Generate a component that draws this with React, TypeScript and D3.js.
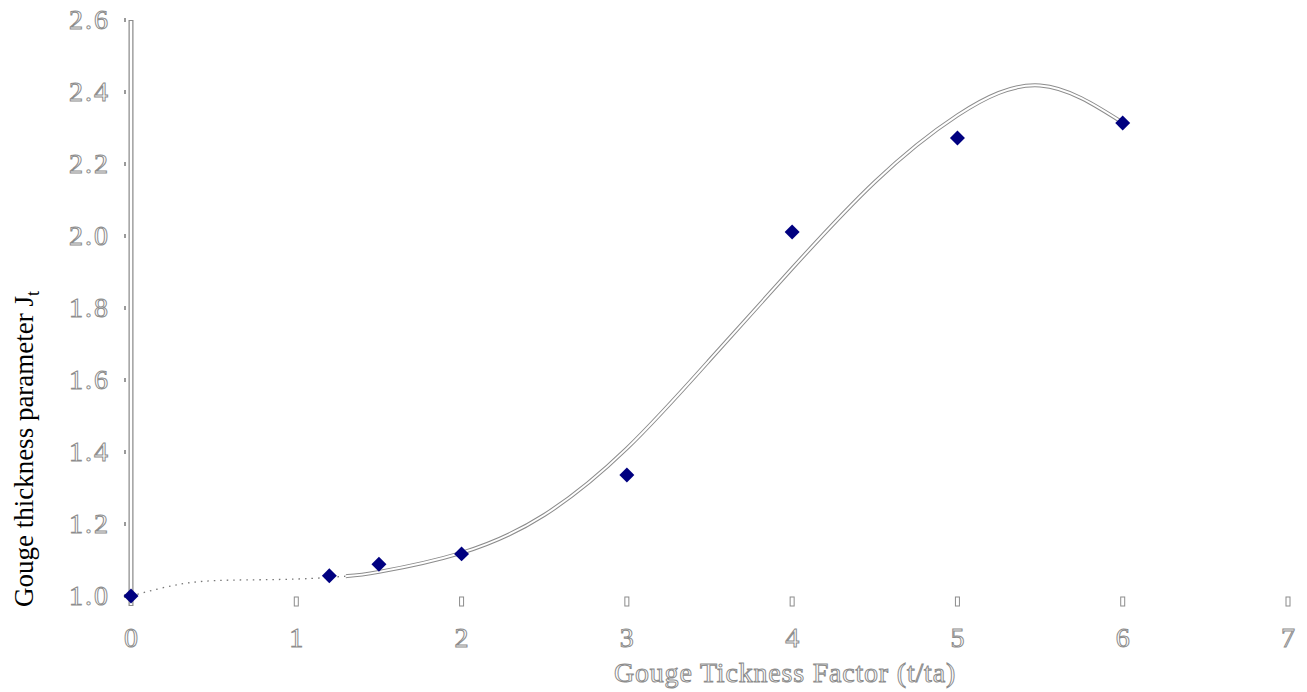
import React from "react";
import * as d3 from "d3";

// Measured data points
const xData = [0, 1.2, 1.5, 2, 3, 4, 5, 6];
const yData = [1.0, 1.056, 1.088, 1.117, 1.336, 2.011, 2.272, 2.314];

// Trendline
const trendX = [0, 0.3, 0.6, 1.0, 1.3, 1.5, 2.0, 2.5, 3.0, 3.5, 4.0, 4.5, 5.0, 5.5, 6.0];
const trendY = [1.0, 1.033, 1.044, 1.047, 1.055, 1.067, 1.12, 1.225, 1.41, 1.655, 1.91, 2.15, 2.335, 2.418, 2.315];

const xTicks = [0, 1, 2, 3, 4, 5, 6, 7];
const yTicks = [1.0, 1.2, 1.4, 1.6, 1.8, 2.0, 2.2, 2.4, 2.6];

const W = 1307;
const H = 692;

export default function App() {
  const x = d3.scaleLinear().domain([0, 7]).range([131, 1288]);
  const y = d3.scaleLinear().domain([1, 2.6]).range([596, 20]);

  const pts = trendX.map((v, i) => [v, trendY[i]] as [number, number]);
  const line = d3
    .line<[number, number]>()
    .x((d) => x(d[0]))
    .y((d) => y(d[1]))
    .curve(d3.curveNatural);
  const full = line(pts) || "";
  const splitX = x(1.3);

  const diamond = d3.symbol().type(d3.symbolSquare).size(112)() as string;

  const outline = { fill: "#fff", stroke: "#8c8c8c", strokeWidth: 1 };
  const font = "'Liberation Serif', 'Times New Roman', serif";

  return (
    <svg
      width={W}
      height={H}
      style={{ position: "absolute", left: 0, top: 0, background: "#fff" }}
    >
      <defs>
        <clipPath id="clipA">
          <rect x={0} y={0} width={splitX} height={H} />
        </clipPath>
        <clipPath id="clipB">
          <rect x={splitX} y={0} width={W - splitX} height={H} />
        </clipPath>
      </defs>

      {/* Y axis (double line) */}
      <line x1={x(0)} x2={x(0)} y1={y(2.6)} y2={606} stroke="#8c8c8c" strokeWidth={5} />
      <line x1={x(0)} x2={x(0)} y1={y(2.6) + 1} y2={605} stroke="#fff" strokeWidth={2.5} />

      {/* Y ticks & labels */}
      {yTicks.map((t) => (
        <g key={"y" + t}>
          <rect x={124} y={y(t) - 2} width={2} height={4} fill="#9a9a9a" />
          <text
            x={110}
            y={y(t) + 9}
            textAnchor="end"
            fontFamily={font}
            fontSize={28}
            letterSpacing={2}
            {...outline}
          >
            {t.toFixed(1)}
          </text>
        </g>
      ))}

      {/* X ticks & labels */}
      {xTicks.map((t) => (
        <g key={"x" + t}>
          {t !== 0 && (
            <rect x={x(t) - 2} y={597} width={4} height={9} fill="#fff" stroke="#8c8c8c" strokeWidth={1} />
          )}
          <text
            x={x(t)}
            y={647}
            textAnchor="middle"
            fontFamily={font}
            fontSize={28}
            {...outline}
          >
            {t}
          </text>
        </g>
      ))}

      {/* Trendline */}
      <path d={full} clipPath="url(#clipA)" fill="none" stroke="#777" strokeWidth={1.3} strokeDasharray="1.5,5" />
      <g clipPath="url(#clipB)">
        <path d={full} fill="none" stroke="#8c8c8c" strokeWidth={4} />
        <path d={full} fill="none" stroke="#fff" strokeWidth={2} />
      </g>

      {/* Data markers */}
      {xData.map((v, i) => (
        <path
          key={"p" + i}
          d={diamond}
          transform={`translate(${x(v)},${y(yData[i])}) rotate(45)`}
          fill="#000080"
        />
      ))}

      {/* Axis titles */}
      <text
        x={785}
        y={682}
        textAnchor="middle"
        fontFamily={font}
        fontSize={28}
        letterSpacing={0.8}
        {...outline}
      >
        Gouge Tickness Factor (t/ta)
      </text>
      <text
        transform="translate(33,449) rotate(-90)"
        textAnchor="middle"
        fontFamily={font}
        fontSize={27}
        fill="#000"
      >
        Gouge thickness parameter J<tspan fontSize={18} dy={6}>t</tspan>
      </text>
    </svg>
  );
}
